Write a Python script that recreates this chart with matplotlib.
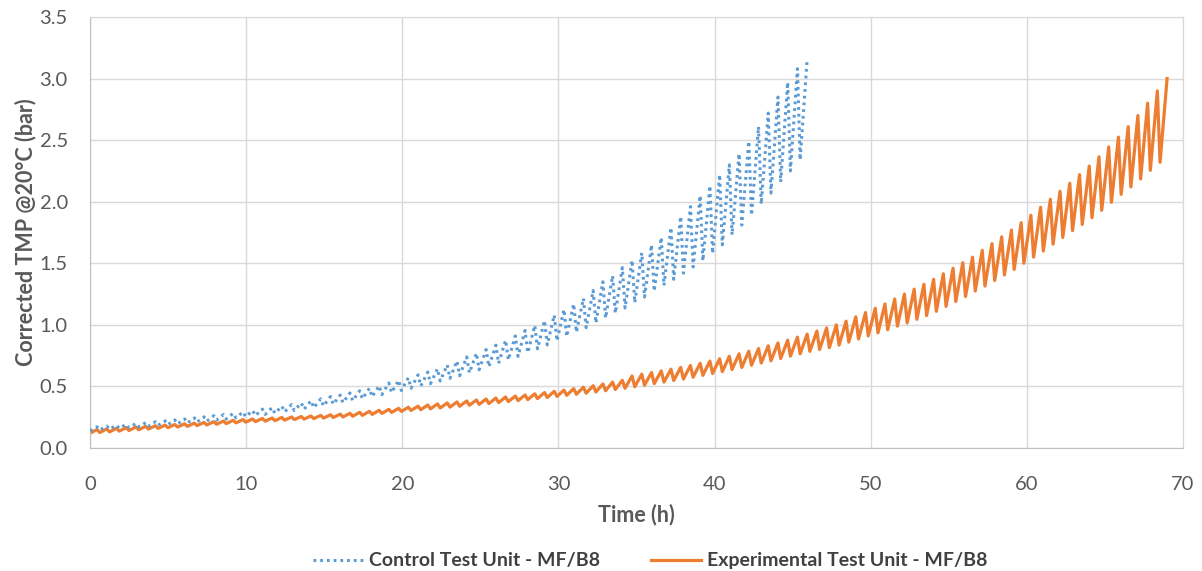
import numpy as np
import matplotlib.pyplot as plt

plt.rcParams['font.family'] = ['Lato', 'DejaVu Sans']

# Длительность цикла фильтрации (ч) и время набора давления внутри цикла
CYCLE_H = 0.623
RISE_H = 0.45

# Контрольная установка: давление в начале (после обратной промывки) и в конце каждого цикла
control_low = [
    0.140, 0.146, 0.152, 0.159, 0.165, 0.171, 0.177, 0.184, 0.190, 0.196,
    0.203, 0.210, 0.218, 0.226, 0.235, 0.245, 0.254, 0.263, 0.273, 0.282,
    0.293, 0.304, 0.315, 0.327, 0.341, 0.355, 0.368, 0.384, 0.400, 0.416,
    0.433, 0.450, 0.467, 0.485, 0.504, 0.523, 0.544, 0.565, 0.587, 0.610,
    0.635, 0.660, 0.687, 0.715, 0.744, 0.774, 0.805, 0.837, 0.870, 0.905,
    0.940, 0.977, 1.015, 1.055, 1.095, 1.137, 1.180, 1.226, 1.273, 1.320,
    1.370, 1.420, 1.470, 1.520, 1.580, 1.650, 1.730, 1.810, 1.890, 1.980,
    2.070, 2.160, 2.250, 2.340,
]
control_high = [
    0.172, 0.178, 0.185, 0.192, 0.199, 0.206, 0.213, 0.220, 0.228, 0.236,
    0.244, 0.253, 0.262, 0.272, 0.282, 0.293, 0.304, 0.316, 0.328, 0.340,
    0.353, 0.366, 0.384, 0.400, 0.418, 0.430, 0.447, 0.465, 0.485, 0.505,
    0.528, 0.550, 0.570, 0.594, 0.617, 0.643, 0.675, 0.707, 0.740, 0.770,
    0.800, 0.835, 0.875, 0.910, 0.955, 0.995, 1.035, 1.080, 1.125, 1.170,
    1.215, 1.280, 1.350, 1.400, 1.465, 1.525, 1.585, 1.650, 1.710, 1.790,
    1.880, 1.960, 2.050, 2.130, 2.220, 2.300, 2.390, 2.490, 2.610, 2.720,
    2.850, 2.970, 3.080, 3.160,
]

# Экспериментальная установка
experimental_low = [
    0.120, 0.126, 0.131, 0.137, 0.142, 0.148, 0.154, 0.159, 0.165, 0.170,
    0.176, 0.182, 0.187, 0.193, 0.198, 0.204, 0.210, 0.214, 0.218, 0.222,
    0.226, 0.231, 0.235, 0.239, 0.243, 0.248, 0.252, 0.258, 0.265, 0.273,
    0.281, 0.289, 0.297, 0.305, 0.311, 0.318, 0.325, 0.332, 0.339, 0.347,
    0.354, 0.361, 0.369, 0.377, 0.385, 0.393, 0.401, 0.410, 0.419, 0.428,
    0.436, 0.445, 0.455, 0.465, 0.475, 0.485, 0.497, 0.510, 0.523, 0.535,
    0.548, 0.560, 0.575, 0.590, 0.605, 0.620, 0.637, 0.654, 0.672, 0.690,
    0.708, 0.727, 0.746, 0.765, 0.785, 0.800, 0.815, 0.835, 0.860, 0.885,
    0.910, 0.935, 0.960, 0.990, 1.015, 1.045, 1.075, 1.110, 1.150, 1.190,
    1.230, 1.275, 1.315, 1.360, 1.405, 1.450, 1.500, 1.550, 1.600, 1.655,
    1.710, 1.765, 1.815, 1.870, 1.930, 1.995, 2.060, 2.120, 2.185, 2.255,
    2.320,
]
experimental_high = [
    0.150, 0.155, 0.160, 0.166, 0.171, 0.176, 0.181, 0.186, 0.191, 0.197,
    0.202, 0.208, 0.214, 0.219, 0.225, 0.231, 0.236, 0.240, 0.244, 0.248,
    0.252, 0.256, 0.260, 0.265, 0.270, 0.275, 0.282, 0.290, 0.298, 0.306,
    0.314, 0.322, 0.331, 0.340, 0.349, 0.358, 0.366, 0.374, 0.382, 0.390,
    0.398, 0.406, 0.414, 0.422, 0.430, 0.440, 0.450, 0.460, 0.470, 0.482,
    0.494, 0.506, 0.520, 0.535, 0.550, 0.585, 0.600, 0.613, 0.626, 0.640,
    0.655, 0.670, 0.688, 0.706, 0.725, 0.745, 0.765, 0.786, 0.808, 0.830,
    0.853, 0.876, 0.900, 0.925, 0.950, 0.975, 1.000, 1.030, 1.065, 1.100,
    1.135, 1.170, 1.210, 1.250, 1.290, 1.330, 1.370, 1.415, 1.460, 1.505,
    1.550, 1.605, 1.660, 1.715, 1.770, 1.830, 1.890, 1.955, 2.020, 2.085,
    2.150, 2.220, 2.290, 2.365, 2.445, 2.525, 2.610, 2.700, 2.800, 2.900,
    3.000,
]

x_ticks = [0, 10, 20, 30, 40, 50, 60, 70]
y_ticks = [0.0, 0.5, 1.0, 1.5, 2.0, 2.5, 3.0, 3.5]


def sawtooth(low, high):
    # каждый цикл: минимум в начале, максимум через RISE_H часов
    start = np.arange(len(low)) * CYCLE_H
    t = np.column_stack([start, start + RISE_H]).ravel()
    p = np.column_stack([low, high]).ravel()
    return t, p


t_ctrl, p_ctrl = sawtooth(control_low, control_high)
t_exp, p_exp = sawtooth(experimental_low, experimental_high)

fig = plt.figure(figsize=(12.02, 5.71), dpi=100)
ax = fig.add_axes([0.0749, 0.2154, 0.9093, 0.7548])

ax.plot(t_ctrl, p_ctrl, color='#5B9BD5', linewidth=2.2, linestyle=(0, (0.9, 1.3)),
        label='Control Test Unit - MF/B8', zorder=3)
ax.plot(t_exp, p_exp, color='#ED7D31', linewidth=2.3,
        label='Experimental Test Unit - MF/B8', zorder=2)

ax.set_xlim(0, 70)
ax.set_ylim(0, 3.5)
ax.set_xticks(x_ticks)
ax.set_yticks(y_ticks)
ax.set_yticklabels(['%.1f' % v for v in y_ticks])
ax.grid(True, color='#D9D9D9', linewidth=1)
ax.set_axisbelow(True)
for s in ax.spines.values():
    s.set_color('#D9D9D9')
ax.spines['left'].set_color('#BFBFBF')
ax.spines['bottom'].set_color('#BFBFBF')
ax.tick_params(length=0, labelsize=14.5, labelcolor='#595959')
ax.tick_params(axis='y', pad=16)
ax.tick_params(axis='x', pad=20)

ax.set_xlabel('Time (h)', fontsize=15.5, fontweight='bold', color='#595959', labelpad=8)
ax.set_ylabel('Corrected TMP @20°C (bar)', fontsize=15.5, fontweight='bold', color='#595959', labelpad=2)

fig.legend(loc='lower center', bbox_to_anchor=(0.541, -0.028), ncol=2, frameon=False,
           handlelength=2.6, columnspacing=2.6, handletextpad=0.3,
           prop={'weight': 'bold', 'size': 14})
for txt in fig.legends[0].get_texts():
    txt.set_color('#404040')

fig.savefig('out.png', dpi=100)
